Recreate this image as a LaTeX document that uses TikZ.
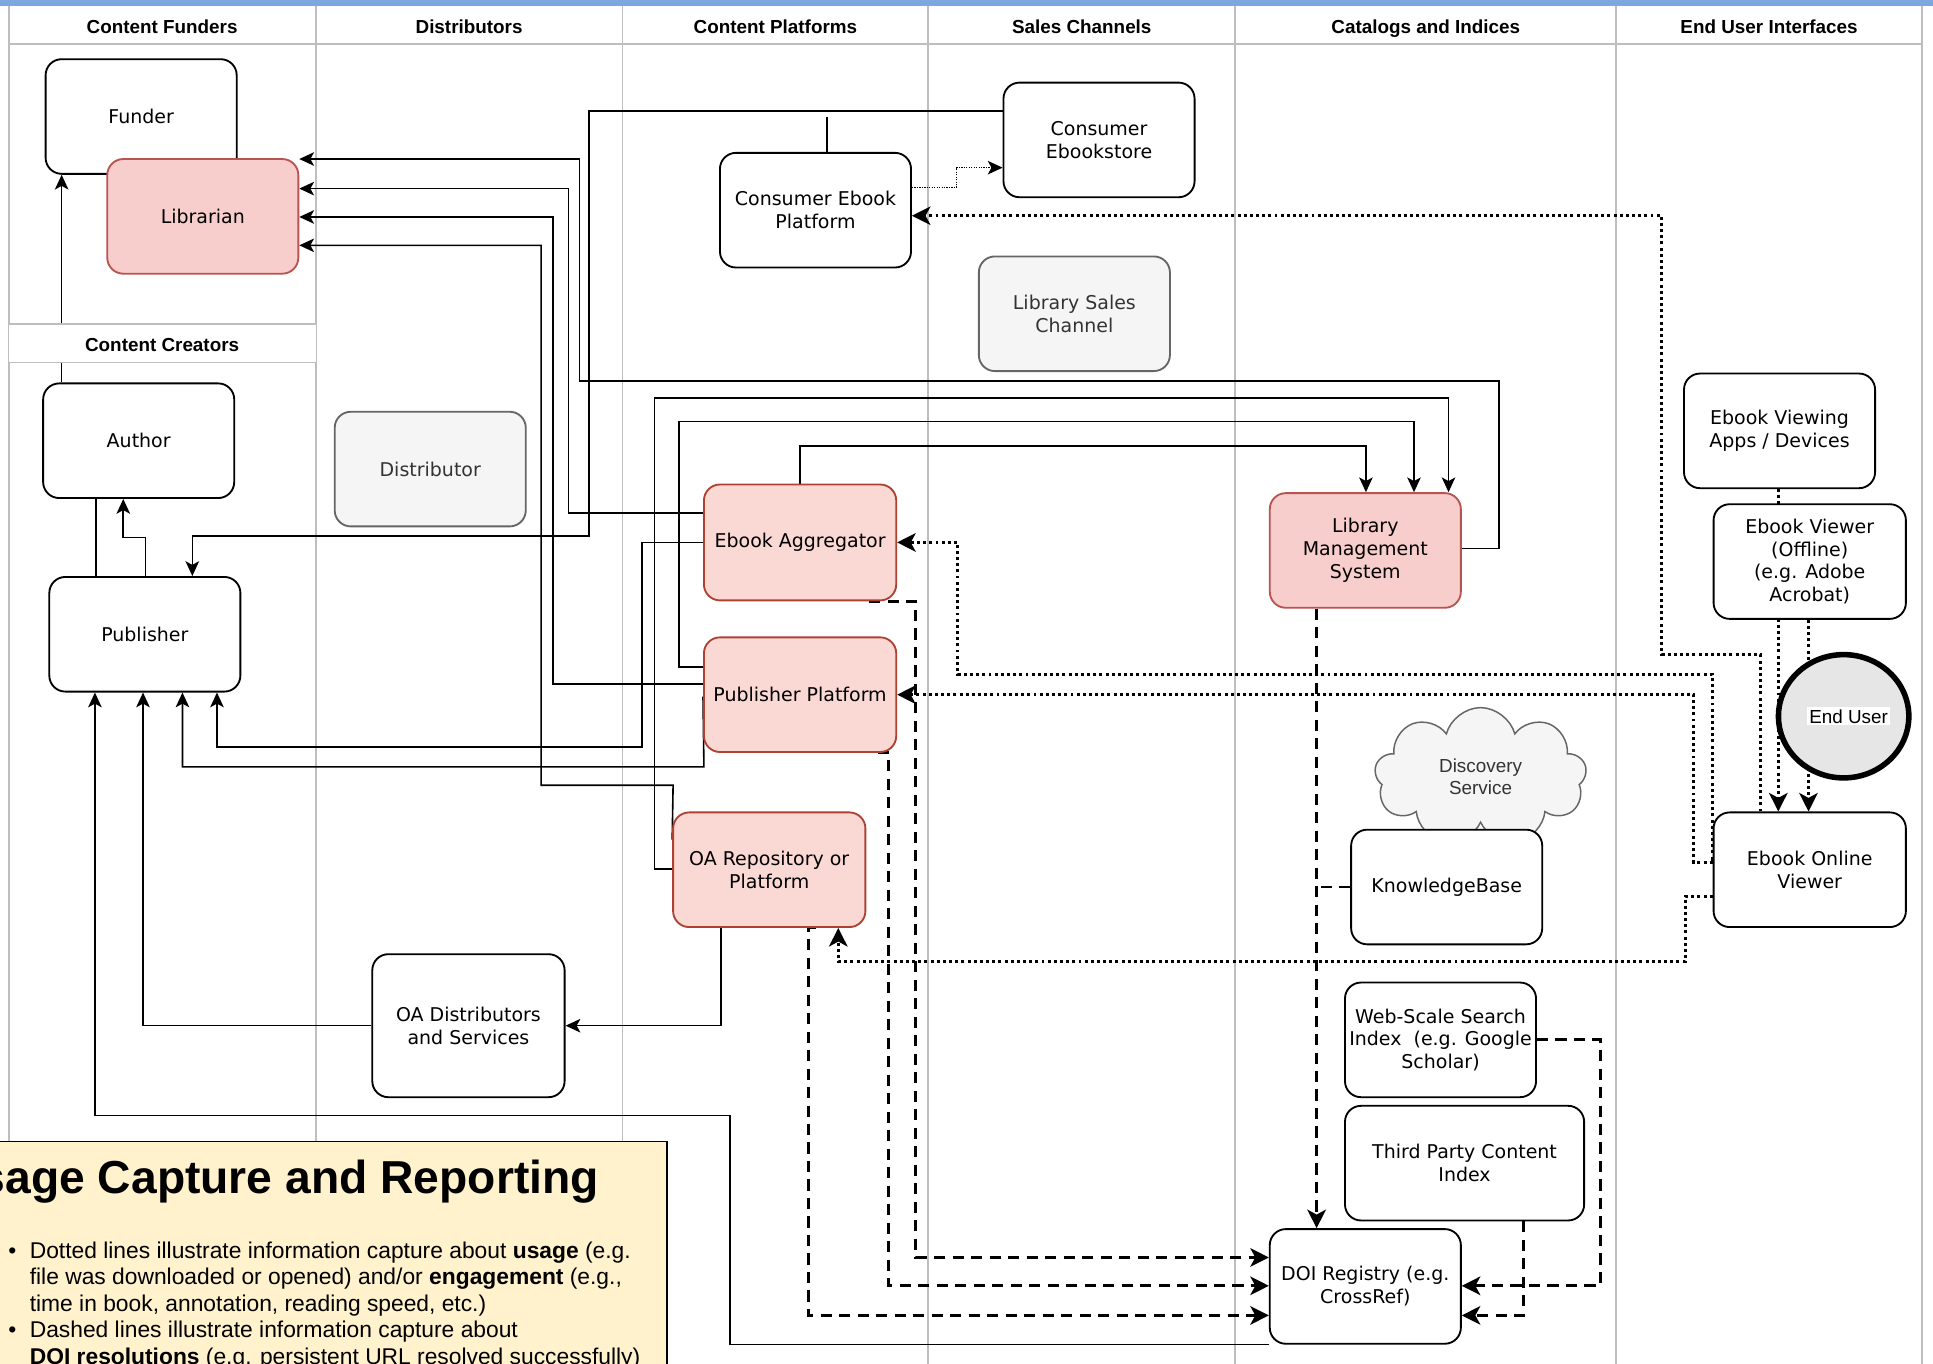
\documentclass[tikz,border=0pt]{standalone}
\usepackage{fontspec}
\setmainfont{DejaVu Sans}
\newfontfamily\arialfont{Liberation Sans}
\usetikzlibrary{arrows.meta,shapes.geometric,shapes.symbols}

\pgfdeclarelayer{grid}
\pgfdeclarelayer{edges}
\pgfsetlayers{grid,edges,main}

\definecolor{lanegray}{RGB}{190,190,190}
\definecolor{topblue}{RGB}{126,166,224}
\definecolor{pinkfill}{HTML}{F8CECC}
\definecolor{pinkline}{HTML}{B85450}
\definecolor{salmonfill}{HTML}{FAD9D5}
\definecolor{salmonline}{HTML}{AE4132}
\definecolor{greyfill}{HTML}{F5F5F5}
\definecolor{greyline}{HTML}{666666}
\definecolor{greytext}{HTML}{333333}
\definecolor{userfill}{HTML}{E6E6E6}
\definecolor{notefill}{HTML}{FFF2CC}

\setlength{\fboxsep}{1.5pt}

\begin{document}
\begin{tikzpicture}[x=1pt, y=-1pt,
    box/.style={draw, line width=1.5pt, fill=white, rounded corners=13pt,
      minimum width=155pt, minimum height=93pt, inner sep=2pt, align=center,
      font=\fontsize{15.4}{18.5}\selectfont},
    pinkbox/.style={box, draw=pinkline, fill=pinkfill},
    salmonbox/.style={box, draw=salmonline, fill=salmonfill},
    greybox/.style={box, draw=greyline, fill=greyfill, text=greytext},
    lanehead/.style={font=\arialfont\bfseries\fontsize{15.3}{18}\selectfont, inner sep=0pt, anchor=base},
    lane/.style={draw=lanegray, line width=1.5pt},
    conn/.style={line width=1.3pt},
    usage/.style={line width=2.4pt, dash pattern=on 2.4pt off 2.6pt},
    doilink/.style={line width=2.4pt, dash pattern=on 9pt off 6pt},
    arr/.style={-{Stealth[length=12pt,width=11pt,inset=3pt]}},
    arrb/.style={-{Stealth[length=15pt,width=15pt,inset=4pt]}},
    legendtext/.style={font=\arialfont\fontsize{18.5}{21.5}\selectfont, anchor=base west, inner sep=0pt}]

    \useasboundingbox (0,0) rectangle (1568,1106.4);
    \clip (0,0) rectangle (1568,1106.4);

    \begin{pgfonlayer}{grid}
      \foreach \x in {7,256,505,753,1002,1311,1559}
        \draw[lane] (\x,4) -- (\x,1106.4);
      \draw[lane] (7,36) -- (1559,36);
      \fill[topblue] (0,0) rectangle (1568,4.5);
    \end{pgfonlayer}

    \node (hfunders) at (131.5, 27.5) [lanehead] {Content Funders};
    \node (hdistrib) at (380.5, 27.5) [lanehead] {Distributors};
    \node (hplatforms) at (629, 27.5) [lanehead] {Content Platforms};
    \node (hsales) at (877.5, 27.5) [lanehead] {Sales Channels};
    \node (hcatalogs) at (1156.5, 27.5) [lanehead] {Catalogs and Indices};
    \node (hinterfaces) at (1435, 27.5) [lanehead] {End User Interfaces};

    \node (funder) at (114.5, 94.5) [box] {Funder};
    \node (librarian) at (164.5, 175.5) [pinkbox] {Librarian};
    \fill[white] (7,263) rectangle (256,294);
    \draw[lane] (7,263) -- (256,263) (7,294) -- (256,294);
    \node (hcreators) at (131.5, 285.5) [lanehead] {Content Creators};
    \node (author) at (112.5, 357.5) [box] {Author};
    \node (publisher) at (117.5, 514.5) [box] {Publisher};
    \node (distributor) at (349, 380.5) [greybox] {Distributor};
    \node (oadist) at (380, 832) [box, minimum width=156pt, minimum height=116pt] {OA Distributors\\and Services};
    \node (cplatform) at (661.5, 170.5) [box] {Consumer Ebook\\Platform};
    \node (aggregator) at (649, 440) [salmonbox, minimum width=156pt, minimum height=94pt] {Ebook Aggregator};
    \node (pubplatform) at (649, 563.5) [salmonbox, minimum width=156pt] {Publisher Platform};
    \node (oarepo) at (624, 705.5) [salmonbox, minimum width=156pt] {OA Repository or\\Platform};
    \node (cstore) at (891.5, 113.5) [box] {Consumer\\Ebookstore};
    \node (libsales) at (871.5, 254.5) [greybox] {Library Sales\\Channel};
    \node (lms) at (1107.5, 446.5) [pinkbox] {Library\\Management\\System};
    \node (discovery) at (1201, 630) [cloud, cloud puffs=9, aspect=1.5, draw=greyline, fill=greyfill,
      line width=1.2pt, minimum width=172pt, minimum height=112pt, text=greytext, align=center,
      font=\arialfont\fontsize{15.3}{18.5}\selectfont] {Discovery\\Service};
    \node (kb) at (1173.5, 719.5) [box] {KnowledgeBase};
    \node (wssi) at (1168.5, 843.5) [box] {Web-Scale Search\\Index~~(e.g. Google\\Scholar)};
    \node (tpci) at (1188, 943.5) [box, minimum width=194pt] {Third Party Content\\Index};
    \node (doi) at (1107.5, 1043.5) [box] {DOI Registry (e.g.\\CrossRef)};
    \node (viewapps) at (1443.5, 349.5) [box] {Ebook Viewing\\Apps / Devices};
    \node (offline) at (1468, 455.5) [box, minimum width=156pt] {Ebook Viewer\\(Offline)\\(e.g. Adobe\\Acrobat)};
    \node (enduser) at (1495.5, 581) [ellipse, draw, line width=4.5pt, fill=userfill, minimum width=97pt,
      minimum height=100pt, inner sep=0pt, font=\arialfont\fontsize{15.3}{18}\selectfont] {\hspace*{8pt}\colorbox{white}{End User}};
    \node (online) at (1468, 705.5) [box, minimum width=156pt] {Ebook Online\\Viewer};

    \begin{pgfonlayer}{edges}
      \draw[conn, arr] (50,0 |- author.north) -- (50,0 |- funder.south);
      \draw[conn] (78,0 |- author.south) -- (78,0 |- publisher.north);
      \draw[conn, arr] (118,0 |- publisher.north) |- (100,436) -- (100,0 |- author.south);
      \draw[conn, arr] (cstore.west |- 0,90) -| (478,435) -| (156,0 |- publisher.north);
      \draw[conn] (671,0 |- cplatform.north) -- (671,95);
      \draw[conn, arr] (lms.east |- 0,445) -| (1216,309) -| (470,129) -- (librarian.east |- 0,129);
      \draw[conn, arr] (aggregator.west |- 0,416) -| (461,153) -- (librarian.east |- 0,153);
      \draw[conn, arr] (pubplatform.west |- 0,555) -| (448.5,176) -- (librarian.east |- 0,176);
      \draw[conn, arr] (oarepo.west |- 0,681) -- (546,637) -| (439,199) -- (librarian.east |- 0,199);
      \draw[conn, arr] (oarepo.west |- 0,705) -| (531,323) -| (1175,0 |- lms.north);
      \draw[conn, arr] (pubplatform.west |- 0,541) -| (551,342) -| (1147,0 |- lms.north);
      \draw[conn, arr] (649,0 |- aggregator.north) |- (1108,362) -- (1108,0 |- lms.north);
      \draw[conn, arr] (aggregator.west |- 0,440) -| (521,606) -| (176,0 |- publisher.south);
      \draw[conn, arr] (pubplatform.west |- 0,565) -- (571,622) -| (148,0 |- publisher.south);
      \draw[conn, arr] (585,0 |- oarepo.south) |- (oadist.east);
      \draw[conn, arr] (oadist.west) -| (116,0 |- publisher.south);
      \draw[conn, arr] (doi.south west) -| (592,905) -| (77,0 |- publisher.south);
      \draw[line width=1pt, dash pattern=on 1pt off 1pt, arr] (cplatform.east |- 0,152) -| (776,136) -- (cstore.west |- 0,136);

      \draw[usage, arrb] (1428,0 |- online.north) |- (1348,531) |- (cplatform.east |- 0,175);
      \draw[usage, arrb] (1442.5,0 |- viewapps.south) -- (1442.5,0 |- online.north);
      \draw[usage, arrb] (1467,0 |- offline.south) -- (1467,0 |- online.north);
      \draw[usage, arrb] (online.west |- 0,697) -| (1389,547) -| (777,440) -- (aggregator.east |- 0,440);
      \draw[usage, arrb] (online.west |- 0,700) -| (1374,563.5) -- (pubplatform.east |- 0,563.5);
      \draw[usage, arrb] (online.west |- 0,727) -| (1367,780) -| (680,0 |- oarepo.south);

      \draw[doilink, arrb] (705,0 |- aggregator.south) -| (743,1020) -- (doi.west |- 0,1020);
      \draw[doilink, arrb] (712,0 |- pubplatform.south) -| (721,1043) -- (doi.west |- 0,1043);
      \draw[doilink, arrb] (662,0 |- oarepo.south) -| (656,1067) -- (doi.west |- 0,1067);
      \draw[doilink, arrb] (1068,0 |- lms.south) -- (1068,0 |- doi.north);
      \draw[doilink] (kb.west) -- (1068,0 |- kb.west);
      \draw[doilink, arrb] (wssi.east |- 0,843) -| (1298,1043) -- (doi.east |- 0,1043);
      \draw[doilink, arrb] (1236,0 |- tpci.south) |- (doi.east |- 0,1067);
    \end{pgfonlayer}

    \draw[line width=1.5pt, fill=notefill] (-20,926) rectangle (541,1140);
    \node (legendtitle) at (486, 968) [anchor=base east, inner sep=0pt,
      font=\arialfont\bfseries\fontsize{37.5}{40}\selectfont] {Usage Capture and Reporting};
    \node (bulletone) at (6.5, 1020.5) [legendtext] {•};
    \node (legendone) at (24, 1020.5) [legendtext] {Dotted lines illustrate information capture about \textbf{usage} (e.g.};
    \node (legendtwo) at (24, 1042) [legendtext] {file was downloaded or opened) and/or \textbf{engagement} (e.g.,};
    \node (legendthree) at (24, 1063.5) [legendtext] {time in book, annotation, reading speed, etc.)};
    \node (bullettwo) at (6.5, 1085) [legendtext] {•};
    \node (legendfour) at (24, 1085) [legendtext] {Dashed lines illustrate information capture about};
    \node (legendfive) at (24, 1106.5) [legendtext] {\textbf{DOI resolutions} (e.g. persistent URL resolved successfully)};
  \end{tikzpicture}
\end{document}
